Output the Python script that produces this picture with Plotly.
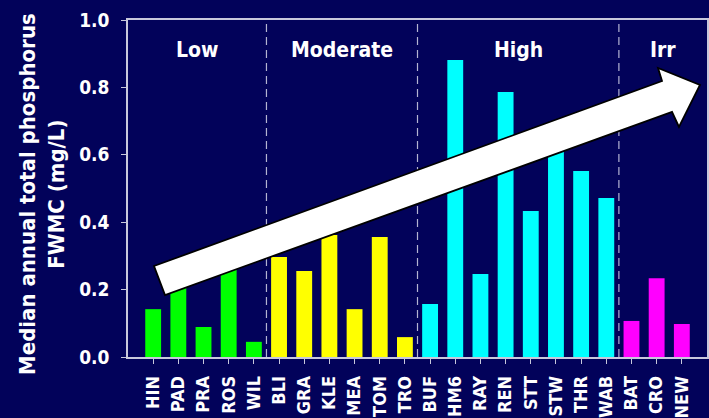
import plotly.graph_objects as go

# Median annual total phosphorus FWMC by site, grouped by intensity class
sites_low = ["HIN", "PAD", "PRA", "ROS", "WIL"]
vals_low = [0.142, 0.21, 0.089, 0.26, 0.045]

sites_mod = ["BLI", "GRA", "KLE", "MEA", "TOM", "TRO"]
vals_mod = [0.297, 0.255, 0.362, 0.142, 0.356, 0.059]

sites_high = ["BUF", "HM6", "RAY", "REN", "STT", "STW", "THR", "WAB"]
vals_high = [0.157, 0.881, 0.246, 0.786, 0.433, 0.608, 0.552, 0.472]

sites_irr = ["BAT", "CRO", "NEW"]
vals_irr = [0.107, 0.234, 0.098]

group_names = ["Low", "Moderate", "High", "Irr"]
y_ticks = [0.0, 0.2, 0.4, 0.6, 0.8, 1.0]

groups = [
    (sites_low, vals_low, "#00FF00"),
    (sites_mod, vals_mod, "#FFFF00"),
    (sites_high, vals_high, "#00FFFF"),
    (sites_irr, vals_irr, "#FF00FF"),
]

BG = "#02025A"
AXIS = "#C8C8DC"
FONT = "DejaVu Sans Condensed, DejaVu Sans"

all_sites = [s for g in groups for s in g[0]]
n = len(all_sites)

fig = go.Figure()
start = 0
bounds = []
for sites, vals, color in groups:
    idx = list(range(start, start + len(sites)))
    fig.add_trace(go.Bar(
        x=idx, y=vals, marker=dict(color=color, line=dict(width=0)),
        width=0.63, showlegend=False, hoverinfo="skip",
    ))
    bounds.append((start - 0.5, start + len(sites) - 0.5))
    start += len(sites)

# dashed separators between groups
for b in bounds[:-1]:
    fig.add_shape(type="line", xref="x", yref="y", x0=b[1], x1=b[1], y0=0, y1=1,
                  line=dict(color="#B4B4D2", width=1.2, dash="8px,5px"), layer="below")

# group labels, centred in each region
lefts = [-1] + [b[1] for b in bounds[:-1]]
rights = [b[1] for b in bounds[:-1]] + [n]
for name, lo, hi in zip(group_names, lefts, rights):
    fig.add_annotation(x=(lo + hi) / 2, y=0.91, xref="x", yref="y", text=f"<b>{name}</b>",
                       showarrow=False, font=dict(family=FONT, size=21, color="white"))

# rising trend arrow (pixel outline converted to paper coordinates)
L, R, T, B = 128, 707, 20, 357
pts = [(154, 266), (662, 81), (658, 68), (700, 85), (679, 127), (672, 112), (165, 295)]
path = ""
for i, (px, py) in enumerate(pts):
    xp = (px - L) / (R - L)
    yp = (B - py) / (B - T)
    path += ("M" if i == 0 else "L") + f"{xp:.4f},{yp:.4f} "
path += "Z"
fig.add_shape(type="path", xref="paper", yref="paper", path=path,
              fillcolor="white", line=dict(color="black", width=1.8), layer="above")

# y-axis title
fig.add_annotation(x=(42 - L) / (R - L), y=(B - 194) / (B - T), xref="paper", yref="paper",
                   text="<b>Median annual total phosphorus<br>FWMC (mg/L)</b>",
                   textangle=-90, showarrow=False, xanchor="center", yanchor="middle",
                   font=dict(family=FONT, size=22, color="white"))

fig.update_layout(
    width=709, height=418,
    margin=dict(l=L, r=709 - R, t=T, b=418 - B, autoexpand=False),
    paper_bgcolor=BG, plot_bgcolor=BG,
    font=dict(family=FONT, color="white"),
)
fig.update_xaxes(
    range=[-1, n], tickmode="array", tickvals=list(range(n)),
    ticktext=[f"<b>{s}</b>" for s in all_sites], tickangle=-90,
    tickfont=dict(family=FONT, size=18, color="white"),
    ticks="outside", ticklen=5, tickcolor=AXIS, ticklabelstandoff=5,
    showline=True, linecolor=AXIS, linewidth=1.5, mirror=True,
    showgrid=False, zeroline=False, automargin=False,
)
fig.update_yaxes(
    range=[0, 1], tickmode="array", tickvals=y_ticks,
    ticktext=[f"<b>{v:.1f}</b>" for v in y_ticks],
    tickfont=dict(family=FONT, size=19, color="white"),
    ticks="outside", ticklen=5, tickcolor=AXIS, ticklabelstandoff=8,
    showline=True, linecolor=AXIS, linewidth=1.5, mirror=True,
    showgrid=False, zeroline=False, automargin=False,
)

fig.write_html("out.html")
